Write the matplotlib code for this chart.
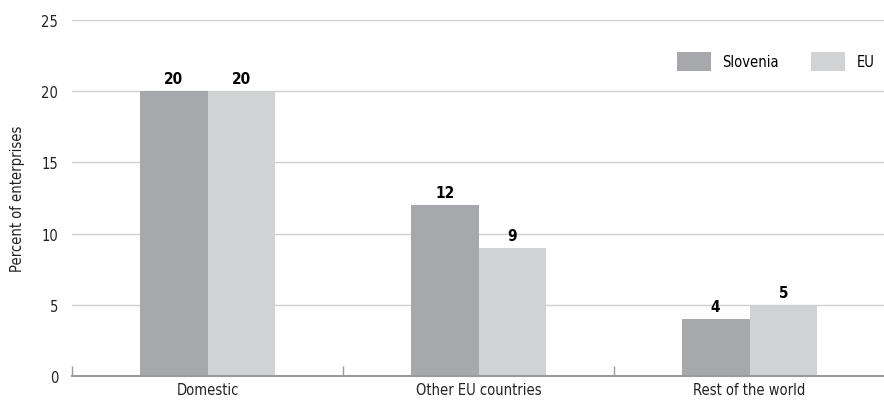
import matplotlib.pyplot as plt
import numpy as np

categories = ['Domestic', 'Other EU countries', 'Rest of the world']
slovenia = [20, 12, 4]
eu = [20, 9, 5]

plt.rcParams['font.family'] = ['DejaVu Sans']
plt.rcParams['font.stretch'] = 'condensed'
plt.rcParams['font.size'] = 9.5

c_slo = '#a7a8ab'
c_eu = '#d1d2d4'

fig = plt.figure(figsize=(8.84, 4.06), dpi=100)
ax = fig.add_axes([72 / 884, 1 - 377 / 406, 813 / 884, (377 - 21) / 406])

x = np.arange(len(categories))
w = 0.25
b1 = ax.bar(x - w / 2, slovenia, w, color=c_slo, label='Slovenia', zorder=2)
b2 = ax.bar(x + w / 2, eu, w, color=c_eu, label='EU', zorder=2)

for bars, vals in ((b1, slovenia), (b2, eu)):
    for b, v in zip(bars, vals):
        ax.text(b.get_x() + b.get_width() / 2, v + 0.35, str(v), ha='center', va='bottom',
                fontweight='bold', fontsize=11)

ax.set_xlim(-0.5, 2.5)
ax.set_ylim(0, 25)
ax.set_yticks(range(0, 26, 5))
ax.yaxis.grid(True, color='#cfcfcf', linewidth=1.0, zorder=0)
ax.set_axisbelow(True)
for s in ('top', 'right', 'left'):
    ax.spines[s].set_visible(False)
ax.spines['bottom'].set_color('#9a9a9a')
ax.spines['bottom'].set_linewidth(1.5)
ax.tick_params(axis='y', length=0, pad=10, labelsize=10.5, colors='#222222')

ax.set_xticks(x)
ax.set_xticklabels(categories, fontsize=10.5)
ax.tick_params(axis='x', length=0, pad=4, colors='#222222')
# small separators between categories
ax.set_xticks([-0.5, 0.5, 1.5], minor=True)
ax.tick_params(axis='x', which='minor', direction='in', length=7, color='#9a9a9a', width=1)

ax.set_ylabel('Percent of enterprises', fontsize=10.5, color='#222222', labelpad=12)

fig.legend(handles=[b1, b2], labels=['Slovenia', 'EU'], loc='upper left',
           bbox_to_anchor=(670 / 884, 1 - 46 / 406), bbox_transform=fig.transFigure,
           ncol=2, frameon=False, borderpad=0, handlelength=2.3, handleheight=1.6,
           handletextpad=0.8, columnspacing=2.2, fontsize=10.5)

fig.savefig('out.png', dpi=100)
